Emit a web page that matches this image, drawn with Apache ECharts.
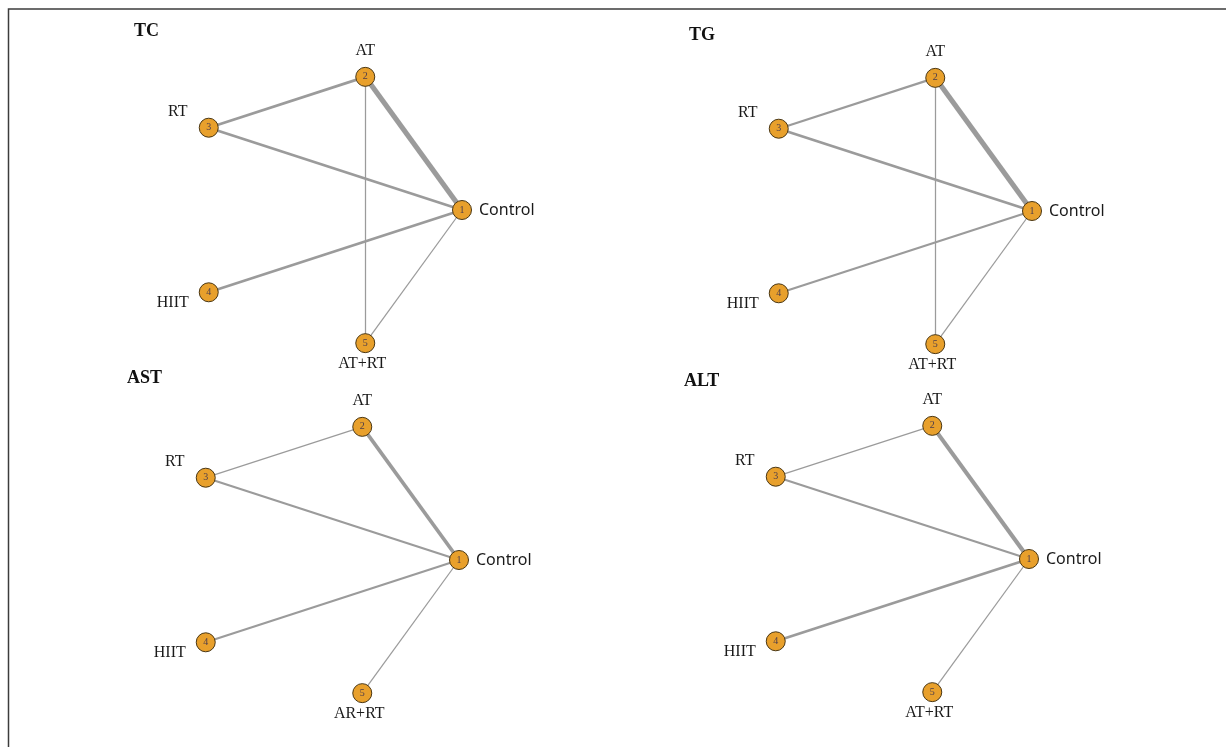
<!DOCTYPE html>
<html>
<head>
<meta charset="utf-8">
<title>Network plots of exercise comparisons</title>
<script src="https://cdn.jsdelivr.net/npm/echarts@6/dist/echarts.min.js"></script>
<style>
  html, body { margin: 0; padding: 0; background: #ffffff; }
  #chart { width: 1226px; height: 747px; }
</style>
</head>
<body>
<div id="chart"></div>
<script>
// Treatment nodes (angle categories around each network)
const namesTC  = ['Control', 'AT', 'RT', 'HIIT', 'AT+RT'];
const namesTG  = ['Control', 'AT', 'RT', 'HIIT', 'AT+RT'];
const namesAST = ['Control', 'AT', 'RT', 'HIIT', 'AR+RT'];
const namesALT = ['Control', 'AT', 'RT', 'HIIT', 'AT+RT'];

// Direct comparisons: [node a, node b, number of studies]
const edgesTC  = [[1, 2, 10], [2, 3, 5], [1, 3, 5], [1, 4, 5], [2, 5, 2], [1, 5, 2]];
const edgesTG  = [[1, 2, 10], [2, 3, 4], [1, 3, 5], [1, 4, 4], [2, 5, 2], [1, 5, 2]];
const edgesAST = [[1, 2, 7], [2, 3, 2], [1, 3, 4], [1, 4, 4], [1, 5, 2]];
const edgesALT = [[1, 2, 8], [2, 3, 2], [1, 3, 4], [1, 4, 5], [1, 5, 2]];

const outcomeTitles = ['TC', 'TG', 'AST', 'ALT'];

// Panel placement on the page
const panels = [
  { names: namesTC,  edges: edgesTC,  center: [322, 210], title: [134, 22] },
  { names: namesTG,  edges: edgesTG,  center: [892, 211], title: [689, 26] },
  { names: namesAST, edges: edgesAST, center: [319, 560], title: [127, 369] },
  { names: namesALT, edges: edgesALT, center: [889, 559], title: [684, 372] }
];
const RADIUS = 140;

const serif = 'Liberation Serif, Times New Roman, serif';
const sans = 'Noto Sans, Open Sans, sans-serif';

// Where each treatment name sits around its node
const nameLabelStyles = [
  { position: 'right', distance: 7, fontFamily: sans, fontSize: 16, color: '#1a1a1a' },
  { position: 'inside', offset: [0, -26], fontFamily: serif, fontSize: 16, color: '#1a1a1a' },
  { position: 'inside', offset: [-31, -16], fontFamily: serif, fontSize: 16, color: '#1a1a1a' },
  { position: 'inside', offset: [-36, 11], fontFamily: serif, fontSize: 16, color: '#1a1a1a' },
  { position: 'inside', offset: [-3, 21], fontFamily: serif, fontSize: 16, color: '#1a1a1a' }
];

const polar = [], angleAxis = [], radiusAxis = [], series = [], title = [];

panels.forEach(function (p, i) {
  polar.push({ center: p.center, radius: RADIUS });
  angleAxis.push({
    polarIndex: i, type: 'category', data: p.names, boundaryGap: false,
    startAngle: 0, clockwise: false, show: false
  });
  radiusAxis.push({ polarIndex: i, type: 'value', min: 0, max: 1, show: false });

  title.push({
    text: outcomeTitles[i], left: p.title[0], top: p.title[1], padding: 0,
    textStyle: { fontFamily: serif, fontWeight: 'bold', fontSize: 18, color: '#111111' }
  });

  series.push({
    type: 'graph',
    coordinateSystem: 'polar',
    polarIndex: i,
    layout: 'none',
    symbol: 'circle',
    symbolSize: 19,
    silent: true,
    animation: false,
    itemStyle: { color: '#E8A02C', borderColor: '#4a3612', borderWidth: 1 },
    lineStyle: { color: '#9b9b9b', opacity: 1, curveness: 0 },
    label: { show: true, formatter: '{b}' },
    data: p.names.map(function (n, k) {
      return { name: n, value: [1, k], label: nameLabelStyles[k] };
    }),
    links: p.edges.map(function (e) {
      return {
        source: p.names[e[0] - 1],
        target: p.names[e[1] - 1],
        lineStyle: { width: 0.3 + e[2] * 0.48 }
      };
    }),
    z: 2
  });

  // Node numbers drawn on top of the circles
  series.push({
    type: 'scatter',
    coordinateSystem: 'polar',
    polarIndex: i,
    symbolSize: 19,
    silent: true,
    animation: false,
    itemStyle: { color: 'rgba(0,0,0,0)' },
    label: {
      show: true, position: 'inside',
      formatter: function (d) { return String(d.dataIndex + 1); },
      fontFamily: serif, fontSize: 10, color: '#1f1f55'
    },
    data: p.names.map(function (n, k) { return [1, k]; }),
    z: 3
  });
});

const chart = echarts.init(document.getElementById('chart'), null, { renderer: 'canvas' });
chart.setOption({
  backgroundColor: '#ffffff',
  animation: false,
  title: title,
  polar: polar,
  angleAxis: angleAxis,
  radiusAxis: radiusAxis,
  series: series,
  graphic: [{
    type: 'rect',
    shape: { x: 8.5, y: 9, width: 1400, height: 900 },
    style: { fill: 'none', stroke: '#3c3c3c', lineWidth: 1.5 },
    silent: true
  }]
});
</script>
</body>
</html>
